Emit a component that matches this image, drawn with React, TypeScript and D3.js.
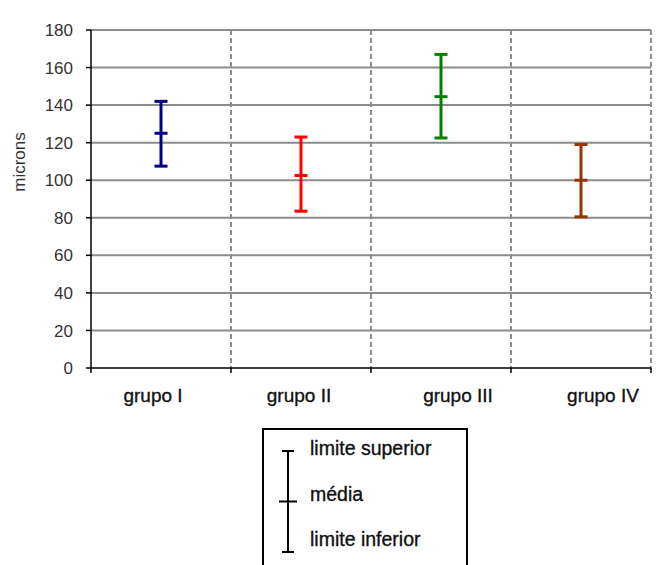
import * as d3 from "d3";
import React from "react";

// values (microns)
const groups = ["grupo I", "grupo II", "grupo III", "grupo IV"];
const upper = [142, 123, 167, 119];
const mean = [125, 102.5, 144.5, 100];
const lower = [107.5, 83.5, 122.5, 80.5];
const colors = ["#000080", "#ff0000", "#008000", "#993300"];
const yTicks = [0, 20, 40, 60, 80, 100, 120, 140, 160, 180];
const legendLabels = ["limite superior", "média", "limite inferior"];

const font = "Liberation Sans, Arial, sans-serif";
// the category labels in the original sit a little off the band centres
const labelNudge = [-8, -2, 17, 22];

const App = () => {
    const width = 660;
    const height = 565;

    const x = d3.scaleBand().domain(groups).range([91, 651]).padding(0);
    const y = d3.scaleLinear().domain([0, 180]).range([368, 30]);

    const cap = 6.5; // half-width of the caps

    // legend symbol drawn on its own little scale
    const legendY = d3.scaleLinear().domain([0, 1]).range([552, 451]);
    const legendTextY = d3.scalePoint().domain(legendLabels).range([455, 546]);

    const textStyle = { fontFamily: font, fill: "#111", stroke: "#111", strokeWidth: 0.35 };

    return (
        <svg width={width} height={height} style={{ position: "absolute", left: 0, top: 0, background: "#fff" }}>
            {/* horizontal grid */}
            {yTicks.slice(1).map(t => (
                <line key={t} x1={91} x2={651} y1={y(t)} y2={y(t)} stroke="#8c8c8c" strokeWidth={2} />
            ))}
            {/* dashed separators */}
            {groups.map(g => (
                <line key={g} x1={x(g)! + x.bandwidth()} x2={x(g)! + x.bandwidth()} y1={y(180)} y2={y(0)}
                    stroke="#8c8c8c" strokeWidth={2} strokeDasharray="5,3" />
            ))}
            {/* axes */}
            <line x1={91} x2={91} y1={y(180)} y2={y(0)} stroke="#000" strokeWidth={1.5} />
            <line x1={91} x2={651} y1={y(0)} y2={y(0)} stroke="#000" strokeWidth={1.5} />
            {yTicks.map(t => (
                <g key={t}>
                    <line x1={86} x2={91} y1={y(t)} y2={y(t)} stroke="#000" strokeWidth={1.5} />
                    <text x={73} y={y(t)} dy="0.36em" textAnchor="end" fontFamily={font} fontSize={17} fill="#333">{t}</text>
                </g>
            ))}
            {[91, ...groups.map(g => x(g)! + x.bandwidth())].map(px => (
                <line key={px} x1={px} x2={px} y1={y(0)} y2={y(0) + 5} stroke="#000" strokeWidth={1.5} />
            ))}
            <text transform="translate(25,162) rotate(-90)" textAnchor="middle" fontFamily={font} fontSize={17} fill="#333">microns</text>
            {groups.map((g, i) => (
                <text key={g} x={x(g)! + x.bandwidth() / 2 + labelNudge[i]} y={402} textAnchor="middle"
                    fontSize={19} {...textStyle}>{g}</text>
            ))}

            {/* error bars */}
            {groups.map((g, i) => {
                const cx = x(g)! + x.bandwidth() / 2;
                return (
                    <g key={g} stroke={colors[i]} strokeWidth={3}>
                        <line x1={cx} x2={cx} y1={y(upper[i])} y2={y(lower[i])} />
                        <line x1={cx - cap} x2={cx + cap} y1={y(upper[i])} y2={y(upper[i])} />
                        <line x1={cx - cap} x2={cx + cap} y1={y(mean[i])} y2={y(mean[i])} />
                        <line x1={cx - cap} x2={cx + cap} y1={y(lower[i])} y2={y(lower[i])} />
                    </g>
                );
            })}

            {/* legend */}
            <rect x={263} y={429} width={204} height={150} fill="#fff" stroke="#000" strokeWidth={2} />
            <g stroke="#000" strokeWidth={2}>
                <line x1={288} x2={288} y1={legendY(1)} y2={legendY(0)} />
                <line x1={282} x2={294} y1={legendY(1)} y2={legendY(1)} />
                <line x1={279} x2={297} y1={legendY(0.5)} y2={legendY(0.5)} />
                <line x1={282} x2={294} y1={legendY(0)} y2={legendY(0)} />
            </g>
            {legendLabels.map(l => (
                <text key={l} x={310} y={legendTextY(l)} fontSize={19.5} {...textStyle}>{l}</text>
            ))}
        </svg>
    );
};

export default App;
